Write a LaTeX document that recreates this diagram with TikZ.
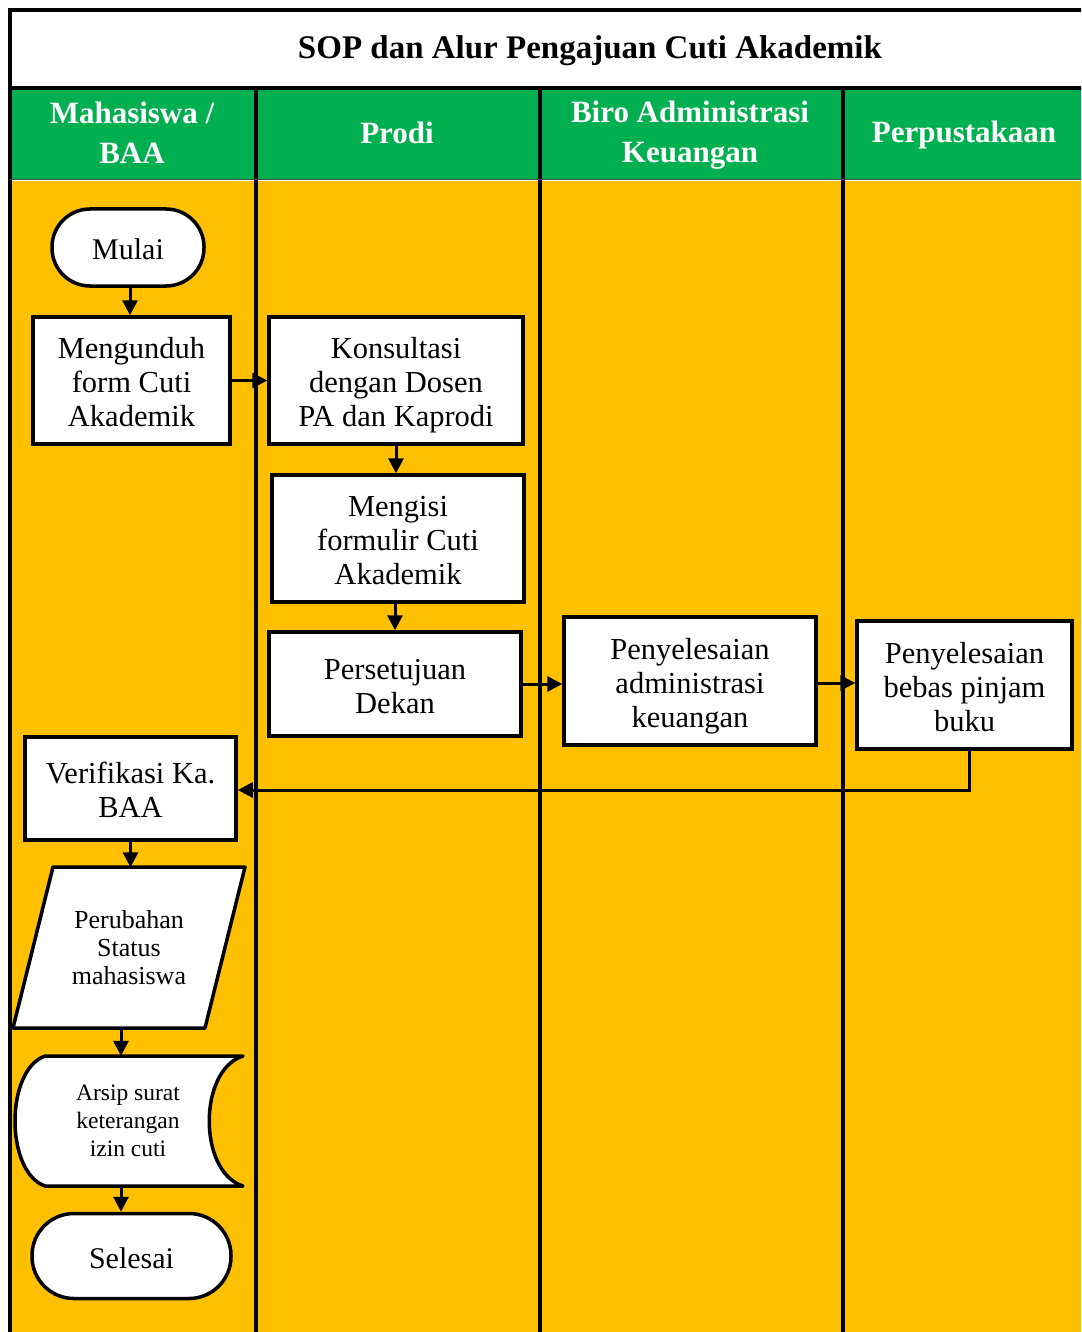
\documentclass[tikz,border=0pt]{standalone}
\usepackage{fontspec}
\setmainfont{Liberation Serif}
\usetikzlibrary{arrows.meta,calc}
\definecolor{hdrgreen}{HTML}{00B050}
\definecolor{laneorange}{HTML}{FFC000}
\newcommand\TopStrut{\rule{0pt}{31.5pt}}
\newcommand\BotStrut{\rule[-7.5pt]{0pt}{7.5pt}}
\tikzset{
  procbox/.style={draw, line width=3.5pt, fill=white, align=center, inner sep=0pt,
    font=\fontsize{30.5}{34}\selectfont},
  termbox/.style={procbox, font=\fontsize{30}{34}\selectfont},
  textonly/.style={align=center, inner sep=0pt},
  hdrtext/.style={align=center, text=white, font=\bfseries\fontsize{31}{40}\selectfont},
  laneline/.style={line width=4pt},
  arr/.style={line width=3pt, -{Triangle[length=15pt,width=15pt]}},
  shapeline/.style={draw, line width=3.5pt, fill=white, line join=round}
}
\begin{document}
\begin{tikzpicture}[x=1pt,y=-1pt]
\useasboundingbox (0,0) rectangle (1081,1332);
\clip (0,0) rectangle (1081,1332);
% backgrounds
\fill[white] (0,0) rectangle (1081,1332);
\fill[white] (10,10) rectangle (1090,88);
\fill[hdrgreen] (10,88) rectangle (1090,179);
\fill[laneorange] (10,181) rectangle (1090,1340);
% frame and lanes
\draw[laneline] (1090,10) -- (10,10) -- (10,1340);
\draw[laneline] (10,88) -- (1090,88);
\draw[laneline] (256,88) -- (256,1340);
\draw[laneline] (540,88) -- (540,1340);
\draw[laneline] (843,88) -- (843,1340);
\draw[line width=1pt, black!70] (10,180) -- (1090,180);
% title and headers
\node[textonly, font=\bfseries\fontsize{33}{38}\selectfont] (title) at (590,51) {SOP dan Alur Pengajuan Cuti Akademik};
\node[hdrtext] (h1) at (132,133) {Mahasiswa /\\BAA};
\node[hdrtext] (h2) at (397,133) {Prodi};
\node[hdrtext] (h3) at (690,135) {Biro Administrasi\\Keuangan};
\node[hdrtext] (h4) at (964,135) {Perpustakaan};
% process nodes
\node[termbox, minimum width=152pt, minimum height=77pt, rounded corners=38pt] (mulai) at (128,247.5) {\TopStrut Mulai\BotStrut};
\node[procbox, minimum width=197pt, minimum height=127pt] (unduh) at (131.5,380.5) {\TopStrut Mengunduh\\form Cuti\\Akademik\BotStrut};
\node[procbox, minimum width=254pt, minimum height=127pt] (konsul) at (396,380.5) {\TopStrut Konsultasi\\dengan Dosen\\PA dan Kaprodi\BotStrut};
\node[procbox, minimum width=252pt, minimum height=127pt] (isi) at (398,538.5) {\TopStrut Mengisi\\formulir Cuti\\Akademik\BotStrut};
\node[procbox, minimum width=252pt, minimum height=104pt] (setuju) at (395,684) {\TopStrut Persetujuan\\Dekan\BotStrut};
\node[procbox, minimum width=252pt, minimum height=128pt] (admin) at (690,681) {\TopStrut Penyelesaian\\administrasi\\keuangan\BotStrut};
\node[procbox, minimum width=215pt, minimum height=128pt] (bebas) at (964.5,685) {\TopStrut Penyelesaian\\bebas pinjam\\buku\BotStrut};
\node[procbox, minimum width=211pt, minimum height=103pt] (ver) at (130.5,788.5) {\TopStrut Verifikasi Ka.\\BAA\BotStrut};
% parallelogram
\draw[shapeline] (53,867) -- (245,867) -- (205,1028) -- (13,1028) -- cycle;
\node[textonly, minimum width=232pt, minimum height=161pt, font=\fontsize{26}{28}\selectfont] (par) at (129,948) {Perubahan\\Status\\mahasiswa};
% stored data
\draw[shapeline] (45,1056) -- (243,1056) .. controls (198,1070) and (198,1172) .. (243,1186) -- (45,1186) .. controls (5,1172) and (5,1070) .. (45,1056) -- cycle;
\node[textonly, minimum width=230pt, minimum height=130pt, font=\fontsize{23.5}{28}\selectfont] (sto) at (128,1121) {Arsip surat\\keterangan\\izin cuti};
\node[termbox, minimum width=199pt, minimum height=85pt, rounded corners=42pt] (selesai) at (131.5,1256) {\TopStrut Selesai\BotStrut};
% connectors
\draw[arr] ([xshift=2pt]mulai.south) -- ([xshift=2pt]mulai.south |- unduh.north);
\draw[arr] (unduh.east) -- (konsul.west);
\draw[arr] (konsul.south) -- (konsul.south |- isi.north);
\draw[arr] (setuju.north |- isi.south) -- (setuju.north);
\draw[arr] (setuju.east) -- (setuju.east -| admin.west);
\draw[arr] ([yshift=-2pt]admin.east) -- ([yshift=-2pt]admin.east -| bebas.west);
\draw[arr] ([xshift=5pt]bebas.south) |- ([yshift=-1.5pt]ver.east);
\draw[arr] (ver.south) -- (ver.south |- par.north);
\draw[arr] ([xshift=-8pt]par.south) -- ([xshift=-8pt]par.south |- sto.north);
\draw[arr] ([xshift=-7pt]sto.south) -- ([xshift=-7pt]sto.south |- selesai.north);
\end{tikzpicture}
\end{document}
